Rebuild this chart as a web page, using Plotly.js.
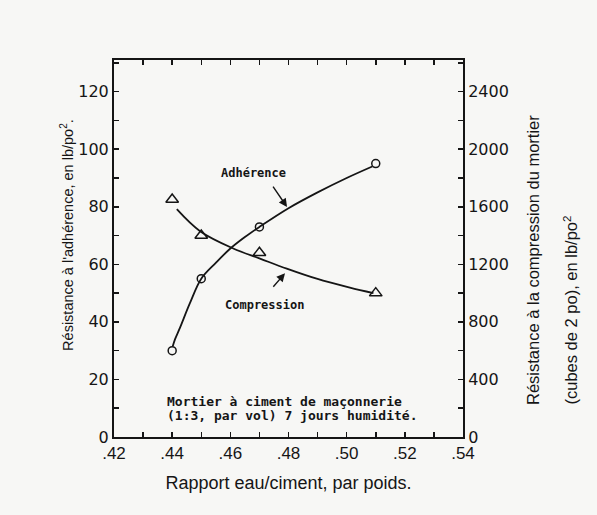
<!DOCTYPE html>
<html>
<head>
<meta charset="utf-8">
<script src="https://cdn.plot.ly/plotly-3.0.1.min.js"></script>
<style>html,body{margin:0;padding:0;background:#f7f7f5;}#chart{width:597px;height:515px;}</style>
</head>
<body>
<div id="chart"></div>
<script>
// Measured points
const ratio = [0.44, 0.45, 0.47, 0.51];
const adherence = [30, 55, 73, 95];            // lb/po², left axis
const compression = [1650, 1400, 1280, 1000];  // lb/po², right axis

// Smoothed curves as drawn in the figure
const adhCurveX = [0.4402, 0.441, 0.4427, 0.4461, 0.45, 0.455, 0.46, 0.465, 0.47, 0.48, 0.49, 0.50, 0.5088];
const adhCurveY = [31.5, 34, 38, 46.5, 55, 60.5, 65.5, 69.5, 73, 79.5, 85, 90, 94];
const compCurveX = [0.4416, 0.4496, 0.461, 0.4702, 0.4794, 0.4897, 0.5011, 0.5092];
const compCurveY = [1583, 1430, 1310, 1240, 1170, 1100, 1038, 1000];

// Axis ticks
const xTickVals = [0.42,0.43,0.44,0.45,0.46,0.47,0.48,0.49,0.50,0.51,0.52,0.53,0.54];
const xTickText = ['.42','','.44','','.46','','.48','','.50','','.52','','.54'];
const yLeftVals = [0,10,20,30,40,50,60,70,80,90,100,110,120,130];
const yLeftText = ['0','','20','','40','','60','','80','','100','','120',''];
const yRightVals = [0,200,400,600,800,1000,1200,1400,1600,1800,2000,2200,2400,2600];
const yRightText = ['0','','400','','800','','1200','','1600','','2000','','2400',''];

const ink = '#151515';
const sans = '"Liberation Sans", Arial, sans-serif';
const mono = '"DejaVu Sans Mono", "Liberation Mono", monospace';

const traces = [
  {x: adhCurveX, y: adhCurveY, mode: 'lines', line: {color: ink, width: 1.8, shape: 'spline'}, xaxis: 'x', yaxis: 'y', hoverinfo: 'skip'},
  {x: ratio, y: adherence, mode: 'markers', marker: {symbol: 'circle-open', size: 8, color: ink, line: {width: 1.5, color: ink}}, xaxis: 'x', yaxis: 'y'},
  {x: compCurveX, y: compCurveY, mode: 'lines', line: {color: ink, width: 1.8, shape: 'spline'}, xaxis: 'x', yaxis: 'y2', hoverinfo: 'skip'},
  {x: ratio, y: compression, mode: 'markers', marker: {symbol: 'triangle-up-open', size: 11, color: ink, line: {width: 1.5, color: ink}}, xaxis: 'x', yaxis: 'y2'}
];

const layout = {
  width: 597, height: 515,
  margin: {l: 114, r: 134, t: 60, b: 78},
  paper_bgcolor: '#f7f7f5', plot_bgcolor: '#f7f7f5',
  showlegend: false,
  xaxis: {
    range: [0.42, 0.54], tickmode: 'array', tickvals: xTickVals, ticktext: xTickText,
    ticks: 'inside', ticklen: 5, tickwidth: 1.5, tickcolor: ink,
    showline: true, linecolor: ink, linewidth: 2, mirror: 'ticks',
    showgrid: false, zeroline: false,
    tickfont: {family: sans, size: 17, color: ink},
    title: {text: 'Rapport eau/ciment, par poids.', font: {family: sans, size: 18, color: ink}, standoff: 14}
  },
  yaxis: {
    range: [0, 131], tickmode: 'array', tickvals: yLeftVals, ticktext: yLeftText,
    ticks: 'inside', ticklen: 5, tickwidth: 1.5, tickcolor: ink,
    showline: true, linecolor: ink, linewidth: 2,
    showgrid: false, zeroline: false,
    tickfont: {family: '"DejaVu Sans", sans-serif', size: 16, color: ink}
  },
  yaxis2: {
    range: [0, 2620], overlaying: 'y', side: 'right',
    tickmode: 'array', tickvals: yRightVals, ticktext: yRightText,
    ticks: 'inside', ticklen: 5, tickwidth: 1.5, tickcolor: ink,
    showline: true, linecolor: ink, linewidth: 2,
    showgrid: false, zeroline: false,
    tickfont: {family: '"DejaVu Sans", sans-serif', size: 16, color: ink}
  },
  annotations: [
    {xref: 'paper', yref: 'paper', x: -0.135, y: 0.2228, xanchor: 'center', yanchor: 'bottom', textangle: -90, showarrow: false,
     text: "Résistance à l'adhérence, en lb/po<sup>2</sup>.", font: {family: sans, size: 14.5, color: ink}},
    {xref: 'paper', yref: 'paper', x: 1.2006, y: 0.0796, xanchor: 'center', yanchor: 'bottom', textangle: -90, showarrow: false,
     text: 'Résistance à la compression du mortier', font: {family: sans, size: 16.5, color: ink}},
    {xref: 'paper', yref: 'paper', x: 1.3095, y: 0.0796, xanchor: 'center', yanchor: 'bottom', textangle: -90, showarrow: false,
     text: '(cubes de 2 po), en lb/po<sup>2</sup>', font: {family: sans, size: 16.5, color: ink}},
    {xref: 'x', yref: 'y', x: 0.4678, y: 91.7, showarrow: false, text: 'Adhérence', font: {family: mono, size: 12, color: ink, weight: 'bold'}},
    {xref: 'x', yref: 'y', x: 0.4719, y: 45.9, showarrow: false, text: 'Compression', font: {family: mono, size: 12, color: ink, weight: 'bold'}},
    {xref: 'x', yref: 'y', x: 0.4795, y: 79.9, ax: -15, ay: -22, text: '', showarrow: true, arrowhead: 2, arrowsize: 1.2, arrowwidth: 1.4, arrowcolor: ink},
    {xref: 'x', yref: 'y', x: 0.4788, y: 56.9, ax: -13, ay: 15, text: '', showarrow: true, arrowhead: 2, arrowsize: 1.2, arrowwidth: 1.4, arrowcolor: ink},
    {xref: 'x', yref: 'y', x: 0.4375, y: 12.5, xanchor: 'left', showarrow: false, text: 'Mortier à ciment de maçonnerie', font: {family: mono, size: 13, color: ink, weight: 'bold'}},
    {xref: 'x', yref: 'y', x: 0.4375, y: 7.6, xanchor: 'left', showarrow: false, text: '(1:3, par vol) 7 jours humidité.', font: {family: mono, size: 13, color: ink, weight: 'bold'}}
  ]
};

Plotly.newPlot('chart', traces, layout, {staticPlot: true, displayModeBar: false});
</script>
</body>
</html>
